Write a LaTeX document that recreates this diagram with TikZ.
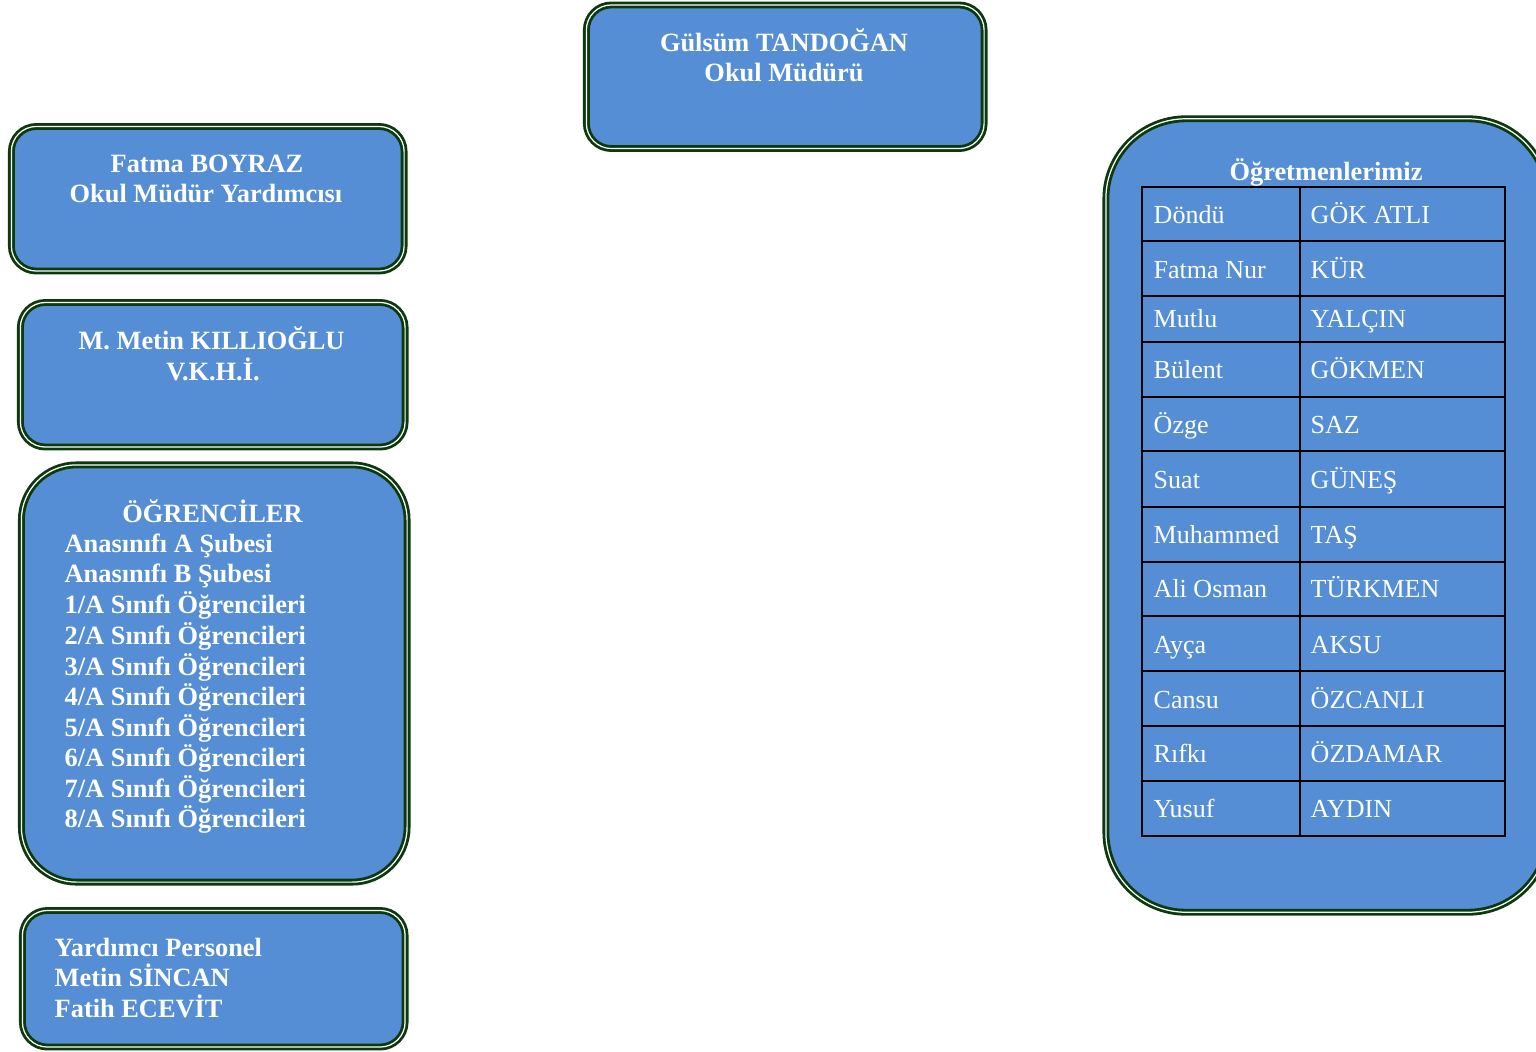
\documentclass[tikz,border=0pt]{standalone}
\usepackage{fontspec}
\setmainfont{Liberation Serif}
\usepackage{tikz}

\definecolor{mavi}{RGB}{85,142,213}
\definecolor{koyuyesil}{RGB}{12,58,12}

\begin{document}
\begin{tikzpicture}[x=0.01cm,y=-0.01cm]
\tikzstyle{kutu}=[rectangle,draw=koyuyesil,double=white,line width=0.8pt,double distance=0.35pt,fill=mavi,inner sep=0pt]
\tikzstyle{baslik}=[text=white,font=\fontsize{7.5}{9}\selectfont\bfseries,inner sep=0pt,anchor=base]
\tikzstyle{satir}=[baslik,anchor=base west]
\tikzstyle{hucre}=[text=white,font=\fontsize{7.4}{9}\selectfont,inner sep=0pt,anchor=base west]
\tikzstyle{tablo}=[draw=black,line width=0.6pt]
\clip (0,0) rectangle (1536,1051);
\fill[white] (0,0) rectangle (1536,1051);
% kutular
\node [kutu,rounded corners=0.25cm,minimum width=3.975cm,minimum height=1.435cm] (mudur) at (785.25,76.75) {};
\node [kutu,rounded corners=0.25cm,minimum width=3.925cm,minimum height=1.445cm] (yardimci) at (207.75,198.75) {};
\node [kutu,rounded corners=0.25cm,minimum width=3.845cm,minimum height=1.445cm] (vkhi) at (212.75,374.75) {};
\node [kutu,rounded corners=0.55cm,minimum width=3.855cm,minimum height=4.17cm] (ogrenci) at (214.25,673.5) {};
\node [kutu,rounded corners=0.25cm,minimum width=3.825cm,minimum height=1.365cm] (personel) at (213.75,978.75) {};
\node [kutu,rounded corners=0.8cm,minimum width=4.42cm,minimum height=7.93cm] (ogretmen) at (1327,515.5) {};
% yazilar
\node [baslik] (mudur1) at (784,51) {Gülsüm TANDOĞAN};
\node [baslik] (mudur2) at (784,81) {Okul Müdürü};
\node [baslik] (yardimci1) at (207,172) {Fatma BOYRAZ};
\node [baslik] (yardimci2) at (206,202) {Okul Müdür Yardımcısı};
\node [baslik] (vkhi1) at (211.5,349.5) {M. Metin KILLIOĞLU};
\node [baslik] (vkhi2) at (213,380.5) {V.K.H.İ.};
\node [baslik] (ogr0) at (212.5,522) {ÖĞRENCİLER};
\node [satir] (ogr1) at (64,552) {Anasınıfı A Şubesi};
\node [satir] (ogr2) at (64,582) {Anasınıfı B Şubesi};
\node [satir] (ogr3) at (64,613) {1/A Sınıfı Öğrencileri};
\node [satir] (ogr4) at (64,644) {2/A Sınıfı Öğrencileri};
\node [satir] (ogr5) at (64,675) {3/A Sınıfı Öğrencileri};
\node [satir] (ogr6) at (64,705) {4/A Sınıfı Öğrencileri};
\node [satir] (ogr7) at (64,736) {5/A Sınıfı Öğrencileri};
\node [satir] (ogr8) at (64,766) {6/A Sınıfı Öğrencileri};
\node [satir] (ogr9) at (64,797) {7/A Sınıfı Öğrencileri};
\node [satir] (ogr10) at (64,827) {8/A Sınıfı Öğrencileri};
\node [satir] (per1) at (54,956) {Yardımcı Personel};
\node [satir] (per2) at (54,986) {Metin SİNCAN};
\node [satir] (per3) at (54,1017) {Fatih ECEVİT};
\node [baslik] (ogrt) at (1326,180) {Öğretmenlerimiz};
% tablo
\draw [tablo] (1142,187) rectangle (1505,836);
\draw [tablo] (1300,187) -- (1300,836);
\draw [tablo] (1142,241) -- (1505,241);
\draw [tablo] (1142,296) -- (1505,296);
\draw [tablo] (1142,342) -- (1505,342);
\draw [tablo] (1142,397) -- (1505,397);
\draw [tablo] (1142,451) -- (1505,451);
\draw [tablo] (1142,507) -- (1505,507);
\draw [tablo] (1142,562) -- (1505,562);
\draw [tablo] (1142,616) -- (1505,616);
\draw [tablo] (1142,671) -- (1505,671);
\draw [tablo] (1142,726) -- (1505,726);
\draw [tablo] (1142,781) -- (1505,781);
\node [hucre] (ad1) at (1153,223) {Döndü};
\node [hucre] (soyad1) at (1310,223) {GÖK ATLI};
\node [hucre] (ad2) at (1153,278) {Fatma Nur};
\node [hucre] (soyad2) at (1310,278) {KÜR};
\node [hucre] (ad3) at (1153,327) {Mutlu};
\node [hucre] (soyad3) at (1310,327) {YALÇIN};
\node [hucre] (ad4) at (1153,378) {Bülent};
\node [hucre] (soyad4) at (1310,378) {GÖKMEN};
\node [hucre] (ad5) at (1153,433) {Özge};
\node [hucre] (soyad5) at (1310,433) {SAZ};
\node [hucre] (ad6) at (1153,488) {Suat};
\node [hucre] (soyad6) at (1310,488) {GÜNEŞ};
\node [hucre] (ad7) at (1153,543) {Muhammed};
\node [hucre] (soyad7) at (1310,543) {TAŞ};
\node [hucre] (ad8) at (1153,597) {Ali Osman};
\node [hucre] (soyad8) at (1310,597) {TÜRKMEN};
\node [hucre] (ad9) at (1153,653) {Ayça};
\node [hucre] (soyad9) at (1310,653) {AKSU};
\node [hucre] (ad10) at (1153,708) {Cansu};
\node [hucre] (soyad10) at (1310,708) {ÖZCANLI};
\node [hucre] (ad11) at (1153,762) {Rıfkı};
\node [hucre] (soyad11) at (1310,762) {ÖZDAMAR};
\node [hucre] (ad12) at (1153,817) {Yusuf};
\node [hucre] (soyad12) at (1310,817) {AYDIN};
\end{tikzpicture}
\end{document}
